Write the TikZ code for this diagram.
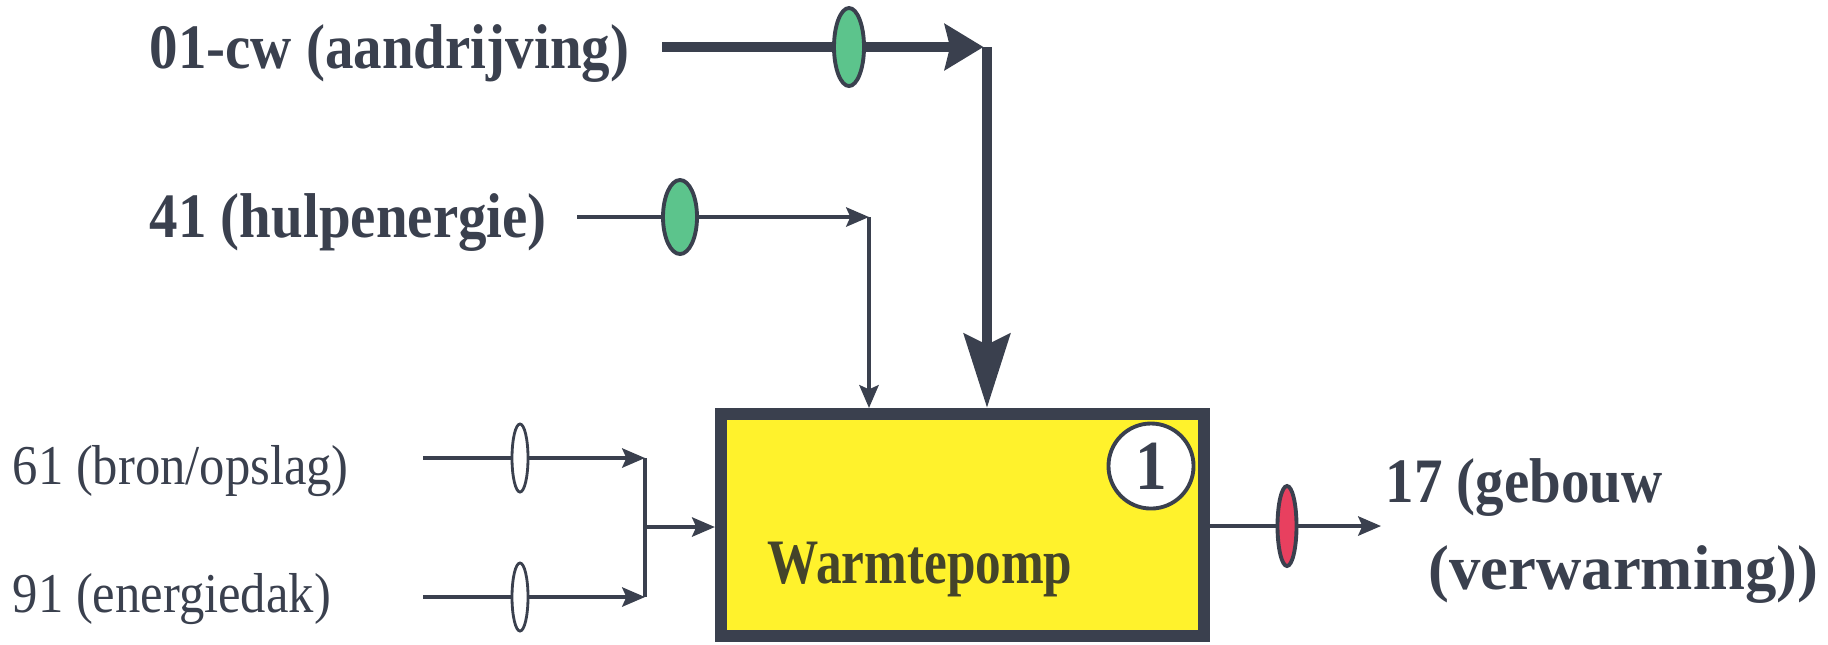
\documentclass[tikz,border=0pt]{standalone}
\usepackage{fontspec}
\setmainfont{Liberation Serif}[FakeStretch=0.9]
\usepackage{tikz}
\usetikzlibrary{arrows.meta,positioning,shapes.geometric}
\definecolor{ink}{HTML}{3A404E}
\definecolor{pumpyellow}{HTML}{FFF22C}
\definecolor{metergreen}{HTML}{5CC48C}
\definecolor{meterred}{HTML}{E8405F}
\definecolor{pumptext}{HTML}{44442A}

\begin{document}
\begin{tikzpicture}[x=0.01cm, y=-0.01cm,
            flow/.style={draw=ink, line width=1pt, -{Stealth[length=6.5pt, width=5.5pt, inset=1.2pt]}},
            flowline/.style={draw=ink, line width=1pt},
            mainflow/.style={draw=ink, line width=3pt, -{Stealth[length=11pt, width=13pt, inset=1.5pt]}},
            maindown/.style={draw=ink, line width=3pt, -{Stealth[length=21pt, width=13pt, inset=3pt]}},
            flowname/.style={font=\fontsize{18}{20}\selectfont\bfseries, text=ink, inner sep=0pt, anchor=base west},
            flowplain/.style={font=\fontsize{16}{18}\selectfont, text=ink, inner sep=0pt, anchor=base west},
            meter/.style={ellipse, draw=ink, line width=1.1pt, inner sep=0pt},
            pump/.style={draw=ink, fill=pumpyellow, line width=3.4pt, minimum width=4.83cm, minimum height=2.22cm, inner sep=0pt}
        ]
        \useasboundingbox (0,0) rectangle (1828,644);

        % heat pump block
        \node[pump] (wp) at (962.5,525) {};
        \node[font=\fontsize{18}{20}\selectfont\bfseries, text=pumptext, anchor=base] (wpname) at (920,583) {\scalebox{0.9}[1]{Warmtepomp}};
        \node[circle, draw=ink, fill=white, line width=1.1pt, minimum size=0.85cm, inner sep=0pt,
              font=\fontsize{20}{20}\selectfont\bfseries, text=ink] (nr) at (1151,466) {1};

        % flow names
        \node[flowname] (n01) at (149,68) {01-cw (aandrijving)};
        \node[flowname] (n41) at (149,237) {41 (hulpenergie)};
        \node[flowplain] (n61) at (12,484) {61 (bron/opslag)};
        \node[flowplain] (n91) at (12,612) {91 (energiedak)};
        \node[flowname] (n17) at (1385,502) {17 (gebouw};
        \node[flowname] (n17b) at (1428,589) {\scalebox{1.1}[1]{(verwarming))}};

        \coordinate (s01) at (662,47);
        \coordinate (j01) at (987,47);
        \coordinate (s41) at (577,217);
        \coordinate (j41) at (869,217);
        \coordinate (s61) at (423,458);
        \coordinate (j61) at (645,458);
        \coordinate (s91) at (423,597);
        \coordinate (j91) at (645,597);
        \coordinate (jin) at (645,527);
        \coordinate (out17) at (1381,526);

        \draw[mainflow, shorten >=1pt] (s01) -- (j01);
        \draw[maindown] (j01) -- (wp.north -| j01);
        \draw[flow] (s41) -- (j41);
        \draw[flow] (j41) -- (wp.north -| j41);
        \draw[flow] (s61) -- (j61);
        \draw[flow] (s91) -- (j91);
        \draw[flowline] (j61) -- (j91);
        \draw[flow] (jin) -- (wp.west |- jin);
        \draw[flow] (wp.east |- out17) -- (out17);

        % meters on the flows
        \node[meter, fill=metergreen, minimum width=0.3cm, minimum height=0.78cm] (m01) at (849,47) {};
        \node[meter, fill=metergreen, minimum width=0.34cm, minimum height=0.74cm] (m41) at (680,217) {};
        \node[meter, fill=white, line width=0.8pt, minimum width=0.16cm, minimum height=0.68cm] (m61) at (520,458) {};
        \node[meter, fill=white, line width=0.8pt, minimum width=0.16cm, minimum height=0.68cm] (m91) at (520,597) {};
        \node[meter, fill=meterred, minimum width=0.19cm, minimum height=0.8cm] (m17) at (1287,526) {};
        \end{tikzpicture}
\end{document}
